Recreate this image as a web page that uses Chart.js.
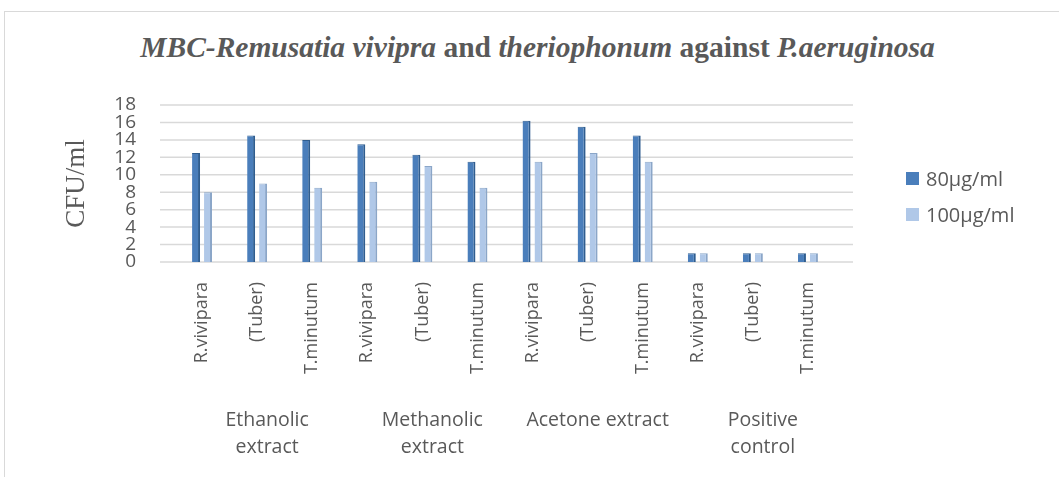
<!DOCTYPE html>
<html>
<head>
<meta charset="utf-8">
<script src="https://cdn.jsdelivr.net/npm/chart.js@4"></script>
<style>
  html, body { margin: 0; padding: 0; background: #fff; overflow: hidden; }
  #wrap { position: relative; width: 1059px; height: 477px; }
  #frame { position: absolute; left: 4px; top: 11px; width: 1100px; height: 500px; border: 1px solid #d9d9d9; }
  #title { position: absolute; left: 0; top: 31px; width: 1075px; text-align: center;
           font-family: "Liberation Serif", "Times New Roman", serif; font-weight: bold;
           font-size: 29.5px; color: #595959; white-space: nowrap; }
  #legend { position: absolute; left: 906px; top: 165px; font-family: "Open Sans", sans-serif;
            font-size: 20px; color: #595959; }
  #legend div { height: 36px; display: flex; align-items: flex-start; }
  #legend span.box { display: inline-block; width: 13px; height: 13px; margin: 7px 7px 0 0; }
  #c { position: absolute; left: 0; top: 0; }
</style>
</head>
<body>
<div id="wrap">
  <div id="frame"></div>
  <div id="title"><i>MBC-Remusatia vivipra</i> and <i>theriophonum</i> against <i>P.aeruginosa</i></div>
  <canvas id="c" width="1059" height="477"></canvas>
  <div id="legend"></div>
</div>
<script>
// data
const categories = ["R.vivipara", "(Tuber)", "T.minutum",
                    "R.vivipara", "(Tuber)", "T.minutum",
                    "R.vivipara", "(Tuber)", "T.minutum",
                    "R.vivipara", "(Tuber)", "T.minutum"];
const groups = [["Ethanolic", "extract"], ["Methanolic", "extract"], ["Acetone extract"], ["Positive", "control"]];
const dose80 = [12.5, 14.5, 14, 13.5, 12.3, 11.5, 16.2, 15.5, 14.5, 1, 1, 1];
const dose100 = [8, 9, 8.5, 9.2, 11, 8.5, 11.5, 12.5, 11.5, 1, 1, 1];
const seriesNames = ["80µg/ml", "100µg/ml"];

const textGrey = "#595959";

// grid lines a bit wider than the plot, like the 3D floor in the original
const wideGrid = {
  id: "wideGrid",
  beforeDatasetsDraw(chart) {
    const y = chart.scales.y, a = chart.chartArea, ctx = chart.ctx;
    ctx.save();
    ctx.strokeStyle = "#d9d9d9";
    ctx.lineWidth = 1.5;
    y.ticks.forEach((t, i) => {
      const py = y.getPixelForTick(i);
      ctx.beginPath();
      ctx.moveTo(a.left - 14.5, py);
      ctx.lineTo(a.right + 17.5, py);
      ctx.stroke();
    });
    ctx.restore();
  }
};

// simple html legend built from the datasets
const htmlLegend = {
  id: "htmlLegend",
  afterUpdate(chart) {
    const box = document.getElementById("legend");
    box.innerHTML = "";
    chart.data.datasets.forEach(ds => {
      const row = document.createElement("div");
      const sw = document.createElement("span");
      sw.className = "box";
      sw.style.background = ds.backgroundColor;
      row.appendChild(sw);
      row.appendChild(document.createTextNode(ds.label));
      box.appendChild(row);
    });
  }
};

new Chart(document.getElementById("c"), {
  type: "bar",
  data: {
    labels: categories,
    datasets: [{
        label: seriesNames[0],
        data: dose80,
        backgroundColor: "#4a7ebb",
        borderColor: "#2f5d8f",
        borderWidth: { right: 2, top: 1 },
        borderSkipped: "bottom"
      }, {
        label: seriesNames[1],
        data: dose100,
        backgroundColor: "#b0c8e8",
        borderColor: "#8ba6c8",
        borderWidth: { right: 2, top: 1 },
        borderSkipped: "bottom"
      }
    ]
  },
  options: {
    responsive: false,
    animation: false,
    devicePixelRatio: 1,
    categoryPercentage: 0.435,
    barPercentage: 0.667,
    layout: { padding: { top: 105, right: 223.5, bottom: 0, left: 0 } },
    plugins: {
      legend: { display: false },
      title: { display: false },
      tooltip: { enabled: false }
    },
    scales: {
      y: {
        min: 0,
        max: 18,
        grid: { display: false, drawTicks: false },
        border: { display: false },
        ticks: {
          stepSize: 2,
          autoSkip: false,
          padding: 38.5,
          color: textGrey,
          font: { family: "Open Sans", size: 19 }
        },
        title: {
          display: true,
          text: "CFU/ml",
          color: textGrey,
          font: { family: "Liberation Serif", size: 27, lineHeight: 1.2 },
          padding: { top: 61, bottom: 0 }
        },
        afterFit: s => { s.width = 174.5; }
      },
      x: {
        offset: true,
        grid: { display: false, drawTicks: false },
        border: { display: false },
        ticks: {
          autoSkip: false,
          minRotation: 90,
          maxRotation: 90,
          padding: 20,
          color: textGrey,
          font: { family: "Open Sans", size: 18 }
        },
        afterFit: s => { s.height = 112; }
      },
      x2: {
        type: "category",
        position: "bottom",
        labels: groups,
        offset: true,
        grid: { display: false, drawTicks: false },
        border: { display: false },
        ticks: {
          autoSkip: false,
          maxRotation: 0,
          padding: 32.5,
          labelOffset: 10,
          color: textGrey,
          font: { family: "Open Sans", size: 19.5, lineHeight: 1.4 }
        },
        afterFit: s => { s.height = 103; }
      }
    }
  },
  plugins: [wideGrid, htmlLegend]
});
</script>
</body>
</html>
